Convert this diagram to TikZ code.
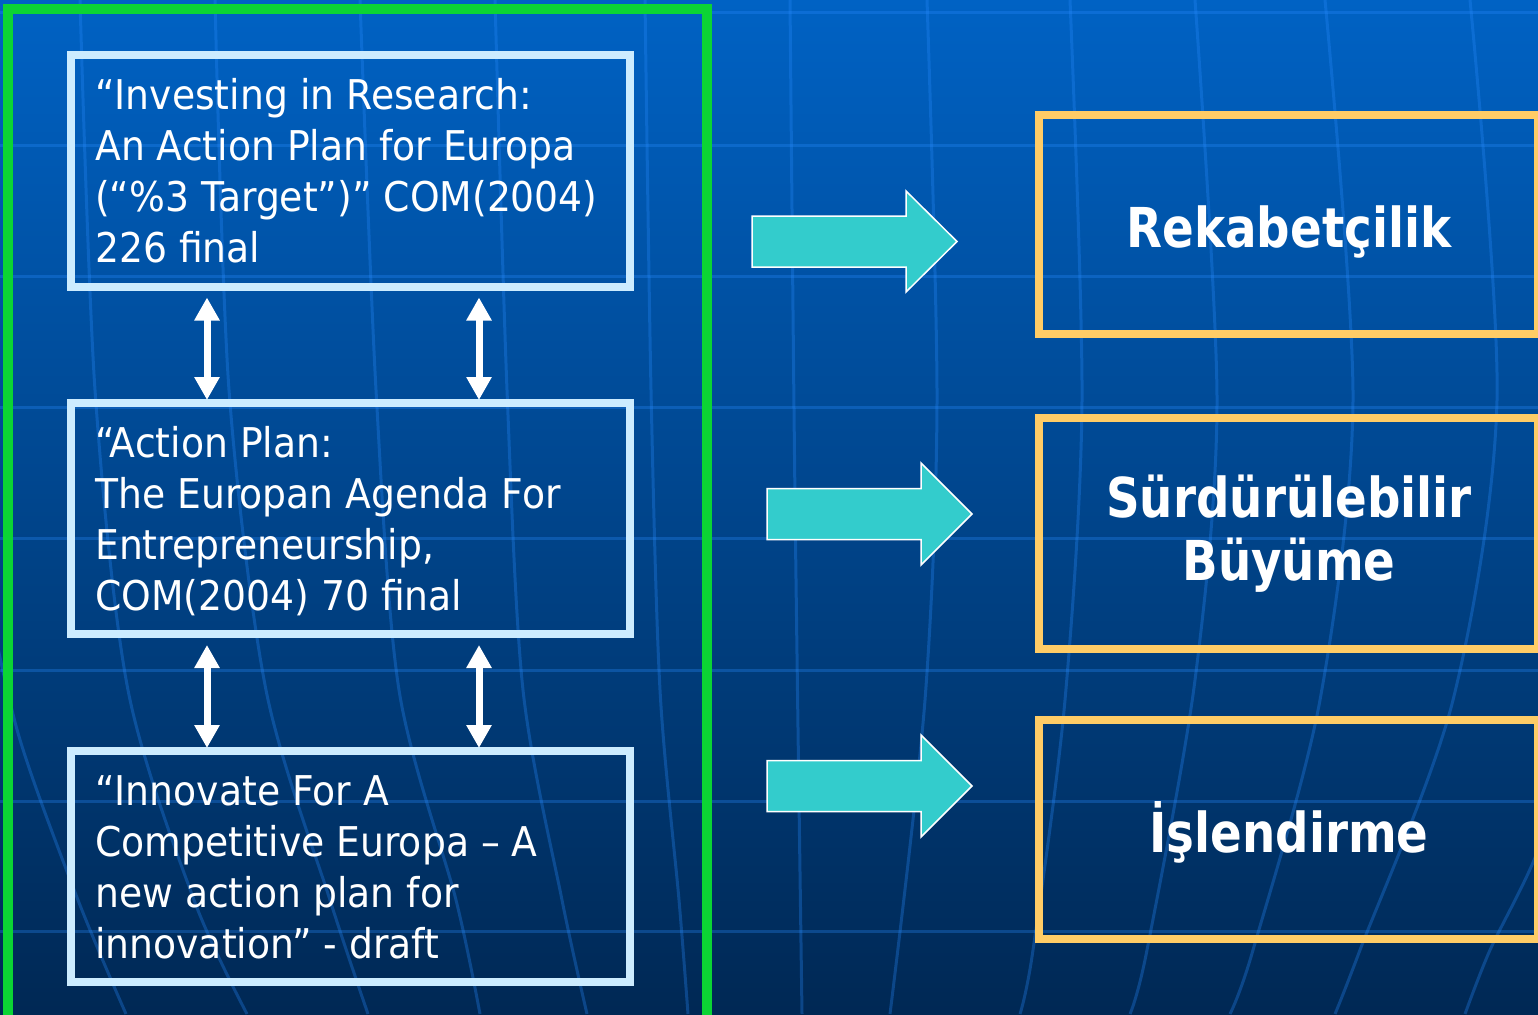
\documentclass[tikz,border=0pt]{standalone}
\usepackage{fontspec}
\setmainfont{DejaVu Sans}[FakeStretch=0.92]
\newfontfamily\boldf{DejaVu Sans}[FakeStretch=0.85]
\usetikzlibrary{arrows.meta,calc}
\definecolor{bgtop}{RGB}{0,98,196}
\definecolor{bgmid}{RGB}{0,70,142}
\definecolor{bgbot}{RGB}{0,40,84}
\definecolor{gridc}{RGB}{40,140,255}
\definecolor{frameg}{RGB}{12,212,52}
\definecolor{boxb}{RGB}{204,236,255}
\definecolor{orangeb}{RGB}{255,204,102}
\definecolor{cyanf}{RGB}{51,204,204}
\begin{document}
\begin{tikzpicture}[x=1pt,y=-1pt,
  gridline/.style={draw=gridc, opacity=0.3, line width=3pt},
  docbox/.style={draw=boxb, line width=8pt, minimum width=559pt, minimum height=231pt, inner sep=0pt},
  goalbox/.style={draw=orangeb, line width=8pt, minimum width=499pt, inner sep=0pt},
  doctext/.style={text=white, inner sep=0pt, anchor=base west, font=\fontsize{41}{51}\selectfont},
  goaltext/.style={text=white, inner sep=0pt, anchor=base, font=\boldf\bfseries\fontsize{55}{63}\selectfont},
  dblarrow/.style={draw=white, line width=7pt, {Triangle[width=24pt,length=23pt]}-{Triangle[width=24pt,length=23pt]}},
  blockarr/.style={fill=cyanf, draw=white, line width=1.5pt, line join=miter}
]
\useasboundingbox (0,0) rectangle (1538,1014);
\clip (0,0) rectangle (1538,1014);
% background
\fill[top color=bgtop, middle color=bgmid, bottom color=bgbot] (0,0) rectangle (1538,1014);
% horizontal grid lines
\foreach \yy in {13,145,276,407,538,670,801,931}
  \draw[gridline] (0,\yy) -- (1538,\yy);
% meridians
\draw[gridline] plot[smooth] coordinates {(-20,560) (18,733) (78,900) (126,1014)};
\draw[gridline] plot[smooth] coordinates {(80,0) (95,390) (128,690) (194,900) (247,1014)};
\draw[gridline] plot[smooth] coordinates {(215,0) (229,390) (266,690) (330,900) (368,1014)};
\draw[gridline] plot[smooth] coordinates {(360,0) (376,390) (399,690) (456,900) (480,1014)};
\draw[gridline] plot[smooth] coordinates {(495,0) (507,390) (523,690) (562,900) (587,1014)};
\draw[gridline] plot[smooth] coordinates {(645,0) (651,390) (660,690) (679,900) (688,1014)};
\draw[gridline] plot[smooth] coordinates {(790,0) (795,500) (802,1014)};
\draw[gridline] plot[smooth] coordinates {(927,0) (937,400) (925,700) (890,1014)};
\draw[gridline] plot[smooth] coordinates {(1070,0) (1082,400) (1065,700) (1033,950) (1020,1014)};
\draw[gridline] plot[smooth] coordinates {(1195,0) (1217,400) (1195,680) (1147,950) (1130,1014)};
\draw[gridline] plot[smooth] coordinates {(1325,0) (1353,400) (1320,700) (1253,950) (1230,1014)};
\draw[gridline] plot[smooth] coordinates {(1470,0) (1497,400) (1453,700) (1360,950) (1335,1014)};
\draw[gridline] plot[smooth] coordinates {(1575,720) (1538,850) (1490,950) (1465,1014)};
% green frame
\draw[frameg, line width=10pt] (707,1040) -- (707,9) -- (8,9) -- (8,1040);
% document boxes
\node[docbox] (b1) at (350.5,171) {};
\node[docbox] (b2) at (350.5,518.5) {};
\node[docbox] (b3) at (350.5,866.5) {};
\node[doctext] (t1) at ($(b1.north west)+(28,58.5)$) {\parbox[t]{600pt}{“Investing in Research:\\An Action Plan for Europa\\(“\%3 Target”)” COM(2004)\\226 final}};
\node[doctext] (t2) at ($(b2.north west)+(28,58.5)$) {\parbox[t]{600pt}{“Action Plan:\\The Europan Agenda For\\Entrepreneurship,\\COM(2004) 70 final}};
\node[doctext] (t3) at ($(b3.north west)+(28,58.5)$) {\parbox[t]{600pt}{“Innovate For A\\Competitive Europa – A\\new action plan for\\innovation” - draft}};
% double arrows
\coordinate (xl) at (207,0);
\coordinate (xr) at (479,0);
\draw[dblarrow] ($(b1.south -| xl)+(0,7)$) -- ($(b2.north -| xl)+(0,1)$);
\draw[dblarrow] ($(b1.south -| xr)+(0,7)$) -- ($(b2.north -| xr)+(0,1)$);
\draw[dblarrow] ($(b2.south -| xl)+(0,7)$) -- ($(b3.north -| xl)+(0,1)$);
\draw[dblarrow] ($(b2.south -| xr)+(0,7)$) -- ($(b3.north -| xr)+(0,1)$);
% goal boxes
\node[goalbox, minimum height=218.5pt] (r1) at (1288.5,224.75) {};
\node[goalbox, minimum height=231.5pt] (r2) at (1288.5,533.25) {};
\node[goalbox, minimum height=218.5pt] (r3) at (1288.5,829.25) {};
\node[goaltext] (g1) at (1289,247) {Rekabetçilik};
\node[goaltext] (g2) at (1289,517) {\parbox[t]{500pt}{\centering Sürdürülebilir\\Büyüme}};
\node[goaltext] (g3) at (1289,852) {İşlendirme};
% block arrows
\draw[blockarr] (752,216) -- (906,216) -- (906,191) -- (957,241.5) -- (906,292) -- (906,267) -- (752,267) -- cycle;
\draw[blockarr] (767,488.5) -- (921,488.5) -- (921,463) -- (972,514) -- (921,565) -- (921,539.5) -- (767,539.5) -- cycle;
\draw[blockarr] (767,760.5) -- (921,760.5) -- (921,735) -- (972,786) -- (921,837) -- (921,811.5) -- (767,811.5) -- cycle;
\end{tikzpicture}
\end{document}
